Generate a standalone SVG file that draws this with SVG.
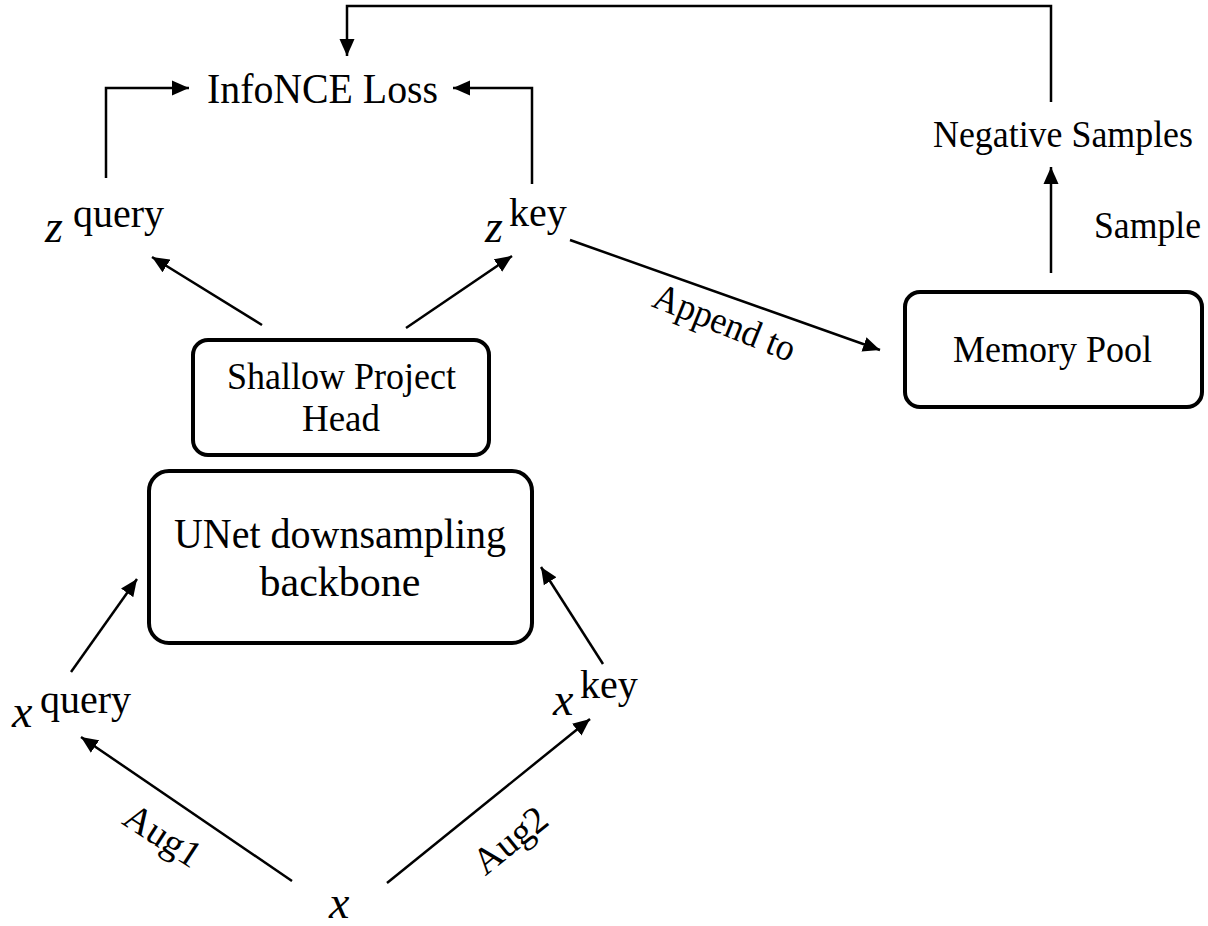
<svg xmlns="http://www.w3.org/2000/svg" width="1208" height="926" viewBox="0 0 1208 926">
<defs>
<marker id="ah" markerUnits="userSpaceOnUse" markerWidth="18" markerHeight="16" refX="17" refY="8" orient="auto">
<path d="M0,0.5 L17,8 L0,15.5 z" fill="#000"/>
</marker>
<style>
.box{fill:#fff;stroke:#000;stroke-width:4}
.t{font-family:"Liberation Serif","Times New Roman",serif;fill:#000}
.c{text-anchor:middle}
.m{font-family:"Liberation Serif","Times New Roman",serif;font-style:italic;font-size:46px;fill:#000}
.s{font-family:"Liberation Serif","Times New Roman",serif;font-size:40px;fill:#000}
.ln{fill:none;stroke:#000;stroke-width:2.5;marker-end:url(#ah)}
</style>
</defs>
<rect width="1208" height="926" fill="#fff"/>
<g id="connectors">
<path class="ln" d="M1051,102 V6 H347 V56"/>
<path class="ln" d="M106,178 V88 H189"/>
<path class="ln" d="M532,184 V88 H453"/>
<line class="ln" x1="262" y1="325" x2="152" y2="257"/>
<line class="ln" x1="406" y1="328" x2="512" y2="256"/>
<line class="ln" x1="570" y1="240" x2="880" y2="350"/>
<line class="ln" x1="1051" y1="273" x2="1051" y2="167"/>
<line class="ln" x1="71" y1="672" x2="137" y2="579"/>
<line class="ln" x1="603" y1="664" x2="541" y2="567"/>
<line class="ln" x1="292" y1="881" x2="81" y2="737"/>
<line class="ln" x1="387" y1="883" x2="590" y2="719"/>
<text class="t c" font-size="38" textLength="150" lengthAdjust="spacingAndGlyphs" transform="translate(720,334) rotate(22)">Append to</text>
<text class="t c" font-size="38" transform="translate(156,846) rotate(33)">Aug1</text>
<text class="t c" font-size="38" transform="translate(518,850) rotate(-39)">Aug2</text>
<text class="t" font-size="38" textLength="107" lengthAdjust="spacingAndGlyphs" x="1094" y="238">Sample</text>
</g>
<g id="infonce">
<text class="t" font-size="42" textLength="231" lengthAdjust="spacingAndGlyphs" x="207" y="103">InfoNCE Loss</text>
</g>
<g id="negative">
<text class="t" font-size="38" textLength="260" lengthAdjust="spacingAndGlyphs" x="933" y="147">Negative Samples</text>
</g>
<g id="zquery">
<text class="m" font-size="44" x="45" y="242">z</text><text class="s" x="73" y="227">query</text>
</g>
<g id="zkey">
<text class="m" font-size="44" x="485" y="242">z</text><text class="s" x="509" y="226">key</text>
</g>
<g id="head">
<rect class="box" x="193" y="340" width="296" height="115" rx="15"/>
<text class="t" font-size="37" textLength="229" lengthAdjust="spacingAndGlyphs" x="227" y="389">Shallow Project</text>
<text class="t c" font-size="37" x="341" y="431">Head</text>
</g>
<g id="unet">
<rect class="box" x="149" y="471" width="383" height="172" rx="20"/>
<text class="t" font-size="42" textLength="332" lengthAdjust="spacingAndGlyphs" x="174" y="548">UNet downsampling</text>
<text class="t c" font-size="42" x="340" y="596">backbone</text>
</g>
<g id="memory">
<rect class="box" x="905" y="292" width="297" height="115" rx="15"/>
<text class="t" font-size="38" textLength="199" lengthAdjust="spacingAndGlyphs" x="953" y="362">Memory Pool</text>
</g>
<g id="xquery">
<text class="m" x="12" y="727">x</text><text class="s" x="40" y="713">query</text>
</g>
<g id="xkey">
<text class="m" x="553" y="715">x</text><text class="s" x="580" y="698">key</text>
</g>
<g id="x">
<text class="m" x="329" y="918">x</text>
</g>
</svg>
